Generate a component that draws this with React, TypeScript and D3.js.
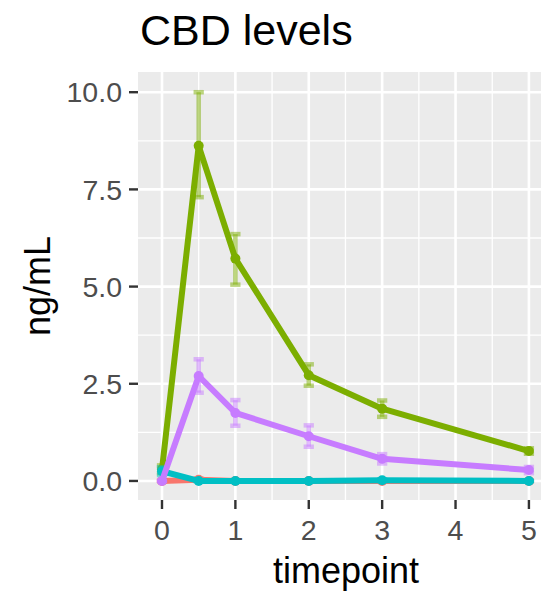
import React from "react";
import * as d3 from "d3";

const timepoints = [0, 0.5, 1, 2, 3, 5];
const groups = ["A", "B", "C", "D"];
const colors = ["#F8766D", "#7CAE00", "#00BFC4", "#C77CFF"];
const meanA = [0.0, 0.03, 0.0, 0.0, 0.0, 0.0];
const meanB = [0.3, 8.62, 5.72, 2.72, 1.86, 0.77];
const meanC = [0.25, 0.0, 0.0, 0.0, 0.02, 0.0];
const meanD = [0.0, 2.7, 1.75, 1.15, 0.57, 0.28];
const lowA = [0.0, 0.0, 0.0, 0.0, 0.0, 0.0];
const highA = [0.0, 0.06, 0.0, 0.0, 0.0, 0.0];
const lowB = [0.2, 7.3, 5.05, 2.45, 1.65, 0.7];
const highB = [0.4, 10.0, 6.35, 3.0, 2.07, 0.84];
const lowC = [0.15, 0.0, 0.0, 0.0, 0.0, 0.0];
const highC = [0.35, 0.0, 0.0, 0.0, 0.04, 0.0];
const lowD = [0.0, 2.27, 1.42, 0.88, 0.45, 0.2];
const highD = [0.0, 3.13, 2.08, 1.43, 0.69, 0.36];
const xTicks = [0, 1, 2, 3, 4, 5];
const yTicks = [0, 2.5, 5, 7.5, 10];
const yTickLabels = ["0.0", "2.5", "5.0", "7.5", "10.0"];

const means = [meanA, meanB, meanC, meanD];
const lows = [lowA, lowB, lowC, lowD];
const highs = [highA, highB, highC, highD];

export default function App() {
  const W = 541;
  const H = 593;
  const panel = { left: 138, right: 548, top: 72, bottom: 500 };
  const x = d3.scaleLinear().domain([-0.327, 5.26]).range([panel.left, panel.right]);
  const y = d3.scaleLinear().domain([-0.49, 10.52]).range([panel.bottom, panel.top]);
  const xMinor = [0.5, 1.5, 2.5, 3.5, 4.5];
  const yMinor = [1.25, 3.75, 6.25, 8.75];
  const line = d3
    .line<[number, number]>()
    .x((d) => x(d[0]))
    .y((d) => y(d[1]));
  const font = "'Liberation Sans', Arial, sans-serif";
  const whisker = 0.07;

  return (
    <svg width={W} height={H} style={{ position: "absolute", left: 0, top: 0 }}>
      <rect width={W} height={H} fill="#fff" />
      <text x={140} y={45} fontFamily={font} fontSize={43} fill="#000">
        CBD levels
      </text>
      <rect
        x={panel.left}
        y={panel.top}
        width={panel.right - panel.left}
        height={panel.bottom - panel.top}
        fill="#EBEBEB"
      />
      {yMinor.map((v) => (
        <line key={"ym" + v} x1={panel.left} x2={panel.right} y1={y(v)} y2={y(v)} stroke="#fff" strokeWidth={1.3} />
      ))}
      {xMinor.map((v) => (
        <line key={"xm" + v} y1={panel.top} y2={panel.bottom} x1={x(v)} x2={x(v)} stroke="#fff" strokeWidth={1.3} />
      ))}
      {yTicks.map((v) => (
        <line key={"yg" + v} x1={panel.left} x2={panel.right} y1={y(v)} y2={y(v)} stroke="#fff" strokeWidth={2.6} />
      ))}
      {xTicks.map((v) => (
        <line key={"xg" + v} y1={panel.top} y2={panel.bottom} x1={x(v)} x2={x(v)} stroke="#fff" strokeWidth={2.6} />
      ))}
      {groups.map((g, gi) => (
        <g key={g}>
          {timepoints.map((t, i) => (
            <g key={i} stroke={colors[gi]} strokeOpacity={0.5} strokeWidth={4.5}>
              <line x1={x(t)} x2={x(t)} y1={y(lows[gi][i])} y2={y(highs[gi][i])} />
              <line x1={x(t - whisker)} x2={x(t + whisker)} y1={y(lows[gi][i])} y2={y(lows[gi][i])} />
              <line x1={x(t - whisker)} x2={x(t + whisker)} y1={y(highs[gi][i])} y2={y(highs[gi][i])} />
            </g>
          ))}
          <path
            d={line(timepoints.map((t, i) => [t, means[gi][i]] as [number, number])) || ""}
            fill="none"
            stroke={colors[gi]}
            strokeWidth={6}
            strokeLinejoin="round"
          />
          {timepoints.map((t, i) => (
            <circle key={"p" + i} cx={x(t)} cy={y(means[gi][i])} r={5} fill={colors[gi]} />
          ))}
        </g>
      ))}
      {yTicks.map((v, i) => (
        <g key={"yt" + v}>
          <line x1={129} x2={panel.left} y1={y(v)} y2={y(v)} stroke="#333" strokeWidth={2.4} />
          <text
            x={122}
            y={y(v)}
            dy="0.36em"
            textAnchor="end"
            fontFamily={font}
            fontSize={28.5}
            fill="#4D4D4D"
          >
            {yTickLabels[i]}
          </text>
        </g>
      ))}
      {xTicks.map((v) => (
        <g key={"xt" + v}>
          <line y1={panel.bottom} y2={panel.bottom + 9} x1={x(v)} x2={x(v)} stroke="#333" strokeWidth={2.4} />
          <text
            x={x(v)}
            y={540}
            textAnchor="middle"
            fontFamily={font}
            fontSize={28.5}
            fill="#4D4D4D"
          >
            {v}
          </text>
        </g>
      ))}
      <text x={346} y={583} textAnchor="middle" fontFamily={font} fontSize={36} fill="#000">
        timepoint
      </text>
      <text
        transform={`translate(50,${(panel.top + panel.bottom) / 2}) rotate(-90)`}
        textAnchor="middle"
        fontFamily={font}
        fontSize={36}
        fill="#000"
      >
        ng/mL
      </text>
    </svg>
  );
}
